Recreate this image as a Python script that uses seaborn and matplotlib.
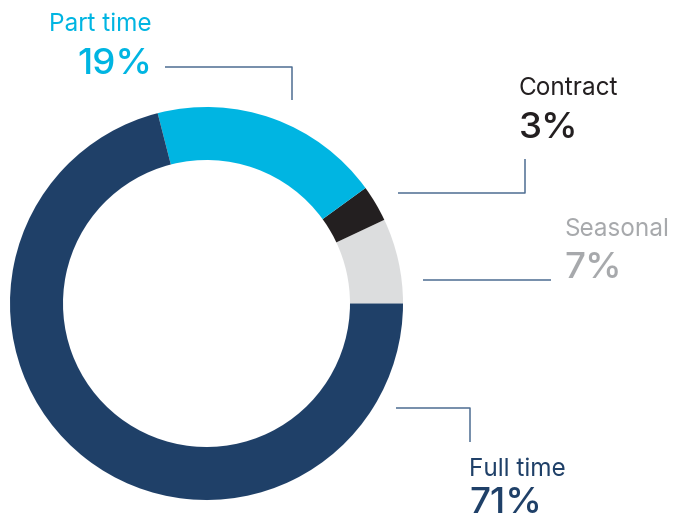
import matplotlib
matplotlib.use("Agg")
import matplotlib.pyplot as plt
import seaborn as sns

sns.set_theme(style="white")
plt.rcParams['font.family'] = ['Inter', 'DejaVu Sans']

# Data (counter-clockwise from 3 o'clock)
categories = ["Seasonal", "Contract", "Part time", "Full time"]
values = [7, 3, 19, 71]
pct_labels = ["7%", "3%", "19%", "71%"]
slice_colors = ["#DCDDDE", "#231F20", "#00B5E2", "#1F4068"]
text_colors = ["#A7A9AC", "#231F20", "#00B5E2", "#1F4068"]

W, H = 673, 523
fig = plt.figure(figsize=(W / 100, H / 100), dpi=100)
ax = fig.add_axes([0, 0, 1, 1])

def Y(y):
    return H - y

cx, cy, R, ring = 206.5, Y(303.5), 196.5, 53
ax.pie(values, colors=slice_colors, startangle=0, counterclock=True,
       center=(cx, cy), radius=R, frame=True,
       wedgeprops=dict(width=ring, linewidth=0))
ax.set_xlim(0, W)
ax.set_ylim(0, H)
ax.set_aspect("equal")
ax.axis("off")

line_kw = dict(color="#4F6F93", linewidth=1.1, solid_capstyle="butt")
# leader lines (Part time, Contract, Seasonal, Full time)
ax.plot([165, 292, 292], [Y(67), Y(67), Y(100)], **line_kw)
ax.plot([398, 525, 525], [Y(193), Y(193), Y(159)], **line_kw)
ax.plot([423, 551], [Y(280), Y(280)], **line_kw)
ax.plot([396, 470, 470], [Y(408), Y(408), Y(442)], **line_kw)

# text positions: (x, label baseline, pct baseline, ha)
pos = {
    "Seasonal": (564, 236, 278, "left"),
    "Contract": (519, 95, 138, "left"),
    "Part time": (152, 31, 74, "right"),
    "Full time": (469, 476, 513, "left"),
}
for cat, pl, tc in zip(categories, pct_labels, text_colors):
    x, yl, yp, ha = pos[cat]
    ax.text(x, Y(yl), cat, color=tc, fontsize=17.5, ha=ha, va="baseline")
    ax.text(x, Y(yp), pl, color=tc, fontsize=26.5, fontweight="medium",
            ha=ha, va="baseline")

fig.savefig("out.png", dpi=100)
